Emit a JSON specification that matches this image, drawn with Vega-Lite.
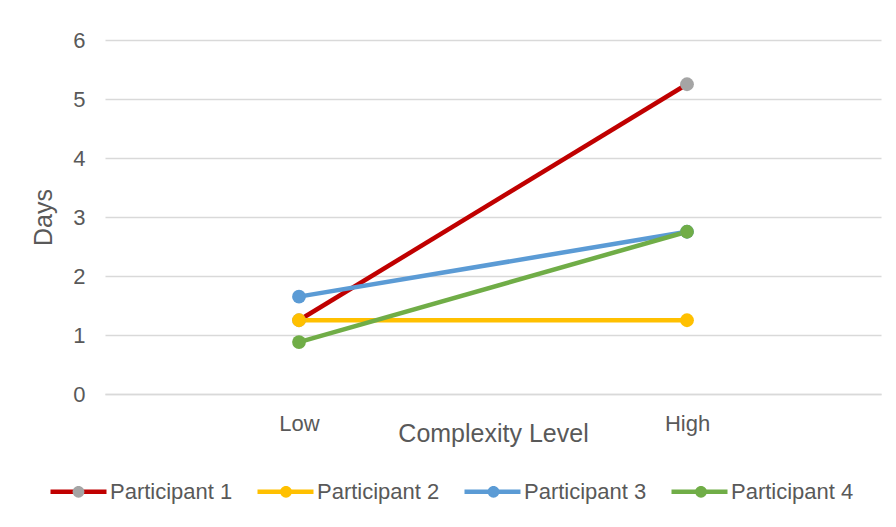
{
  "$schema": "https://vega.github.io/schema/vega-lite/v6.json",
  "autosize": {"type": "none"},
  "width": 776,
  "height": 354,
  "padding": {"left": 105, "top": 40, "right": 15, "bottom": 133},
  "background": "white",
  "config": {
    "font": "Liberation Sans",
    "view": {"stroke": null},
    "axis": {
      "labelFont": "Liberation Sans",
      "titleFont": "Liberation Sans",
      "labelColor": "#595959",
      "titleColor": "#595959",
      "labelFontSize": 22,
      "titleFontSize": 25,
      "titleFontWeight": "normal",
      "ticks": false
    },
    "legend": {
      "labelFont": "Liberation Sans",
      "labelFontSize": 22,
      "labelColor": "#595959",
      "padding": 0
    }
  },
  "data": {
    "values": [
      {"series": "Participant 1", "level": "Low", "days": 1.25},
      {"series": "Participant 1", "level": "High", "days": 5.25},
      {"series": "Participant 2", "level": "Low", "days": 1.25},
      {"series": "Participant 2", "level": "High", "days": 1.25},
      {"series": "Participant 3", "level": "Low", "days": 1.65},
      {"series": "Participant 3", "level": "High", "days": 2.75},
      {"series": "Participant 4", "level": "Low", "days": 0.88},
      {"series": "Participant 4", "level": "High", "days": 2.75}
    ]
  },
  "encoding": {
    "x": {
      "field": "level",
      "type": "nominal",
      "sort": ["Low", "High"],
      "scale": {"type": "point", "padding": 0.5},
      "axis": {
        "title": "Complexity Level",
        "labelAngle": 0,
        "labelPadding": 19,
        "titlePadding": -13,
        "domain": true,
        "domainColor": "#D9D9D9",
        "domainWidth": 1.3,
        "grid": false
      }
    },
    "y": {
      "field": "days",
      "type": "quantitative",
      "scale": {"domain": [0, 6], "nice": false, "zero": true},
      "axis": {
        "title": "Days",
        "values": [0, 1, 2, 3, 4, 5, 6],
        "domain": false,
        "grid": true,
        "gridColor": "#D9D9D9",
        "gridWidth": 1.3,
        "labelPadding": 20,
        "titlePadding": 16
      }
    }
  },
  "layer": [
    {
      "mark": {"type": "line", "strokeWidth": 4.5},
      "encoding": {
        "color": {
          "field": "series",
          "type": "nominal",
          "scale": {"range": ["#C00000", "#FFC000", "#5B9BD5", "#70AD47"]},
          "legend": {
            "title": null,
            "orient": "none",
            "legendX": -57,
            "legendY": 421,
            "direction": "horizontal",
            "columns": 4,
            "symbolType": "stroke",
            "symbolSize": 3136,
            "symbolStrokeWidth": 4.5,
            "labelOffset": 1,
            "columnPadding": 15
          }
        }
      }
    },
    {
      "mark": {"type": "circle", "size": 190, "opacity": 1},
      "encoding": {
        "fill": {
          "field": "series",
          "type": "nominal",
          "scale": {
            "domain": ["Participant 1", "Participant 2", "Participant 3", "Participant 4"],
            "range": ["#A5A5A5", "#FFC000", "#5B9BD5", "#70AD47"]
          },
          "legend": {
            "title": null,
            "orient": "none",
            "legendX": -57,
            "legendY": 421,
            "direction": "horizontal",
            "columns": 4,
            "symbolType": "M0.21,0A0.21,0.21,0,1,1,-0.21,0A0.21,0.21,0,1,1,0.21,0Z",
            "symbolSize": 3136,
            "symbolStrokeWidth": 4.5,
            "symbolStrokeColor": "transparent",
            "symbolOpacity": 1,
            "labelOffset": 4,
            "labelExpr": "''",
            "columnPadding": 142.5
          }
        }
      }
    }
  ]
}
